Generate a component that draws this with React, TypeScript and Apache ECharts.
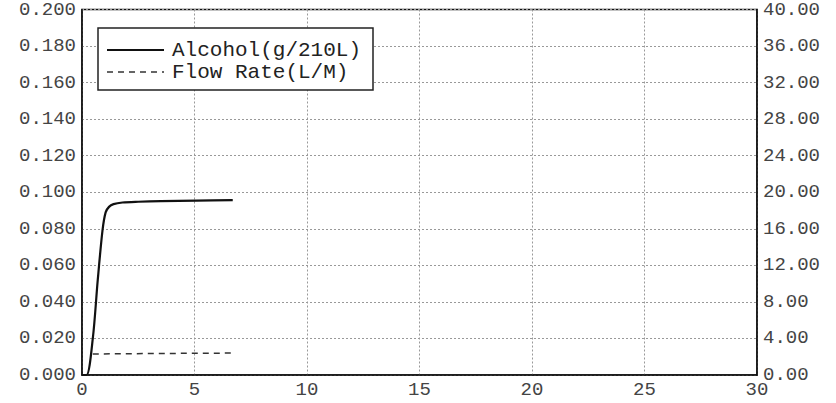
import React, { useEffect, useRef } from "react";
import * as echarts from "echarts";

const alcoholX = [0, 0.2, 0.48, 0.7, 0.91, 1.05, 1.2, 1.4, 1.8, 2.5, 3.5, 5.1, 6.7];
const alcoholY = [0, 0, 0.02, 0.052, 0.079, 0.089, 0.092, 0.0935, 0.0944, 0.0948, 0.0951, 0.0954, 0.0957];
const flowX = [0.48, 3.0, 6.7];
const flowY = [2.3, 2.35, 2.4];
const seriesNames = ["Alcohol(g/210L)", "Flow Rate(L/M)"];

const FONT = "Liberation Mono";

export default function App() {
  const ref = useRef<HTMLDivElement>(null);
  useEffect(() => {
    document.body.style.margin = "0";
    const chart = echarts.init(ref.current!, null, { renderer: "svg" });
    chart.setOption({
      animation: false,
      backgroundColor: "#ffffff",
      grid: {
        left: 82,
        right: 79,
        top: 9,
        bottom: 28,
        show: true,
        borderColor: "#111",
        borderWidth: 1.5,
      },
      graphic: [
        {
          type: "rect",
          shape: { x: 98, y: 28, width: 275, height: 62 },
          style: { fill: "#fff", stroke: "#222", lineWidth: 1.5 },
          z: 100,
        },
        {
          type: "line",
          shape: { x1: 107, y1: 50, x2: 164, y2: 50 },
          style: { stroke: "#111", lineWidth: 2 },
          z: 101,
        },
        {
          type: "line",
          shape: { x1: 107, y1: 72, x2: 164, y2: 72 },
          style: { stroke: "#333", lineWidth: 1.5, lineDash: [6, 5] },
          z: 101,
        },
        {
          type: "text",
          x: 172,
          y: 50,
          style: {
            text: seriesNames[0],
            font: `21px "${FONT}"`,
            fill: "#222",
            verticalAlign: "middle",
          },
          z: 101,
        },
        {
          type: "text",
          x: 172,
          y: 72,
          style: {
            text: seriesNames[1],
            font: `21px "${FONT}"`,
            fill: "#222",
            verticalAlign: "middle",
          },
          z: 101,
        },
      ],
      xAxis: {
        type: "value",
        min: 0,
        max: 30,
        interval: 5,
        axisLine: { show: true, lineStyle: { color: "#111", width: 1.5 } },
        axisTick: { show: false },
        axisLabel: { fontFamily: FONT, fontSize: 19, color: "#444", margin: 5 },
        splitLine: { show: true, lineStyle: { color: "#999", type: [2, 2], width: 1 } },
      },
      yAxis: [
        {
          type: "value",
          min: 0,
          max: 0.2,
          interval: 0.02,
          position: "left",
          axisLine: { show: true, lineStyle: { color: "#111", width: 1.5 } },
          axisTick: { show: false },
          axisLabel: {
            fontFamily: FONT,
            fontSize: 19,
            color: "#444",
            margin: 6,
            formatter: (v: number) => v.toFixed(3),
          },
          splitLine: { show: true, lineStyle: { color: "#999", type: [2, 2], width: 1 } },
        },
        {
          type: "value",
          min: 0,
          max: 40,
          interval: 4,
          position: "right",
          axisLine: { show: true, lineStyle: { color: "#111", width: 1.5 } },
          axisTick: { show: false },
          axisLabel: {
            fontFamily: FONT,
            fontSize: 19,
            color: "#444",
            margin: 6,
            formatter: (v: number) => v.toFixed(2),
          },
          splitLine: { show: false },
        },
      ],
      series: [
        {
          name: seriesNames[0],
          type: "line",
          yAxisIndex: 0,
          symbol: "none",
          smooth: 0.3,
          data: alcoholX.map((x, i) => [x, alcoholY[i]]),
          lineStyle: { color: "#111", width: 2.2 },
          itemStyle: { color: "#111" },
        },
        {
          name: seriesNames[1],
          type: "line",
          yAxisIndex: 1,
          symbol: "none",
          data: flowX.map((x, i) => [x, flowY[i]]),
          lineStyle: { color: "#333", width: 1.5, type: [6, 5] },
          itemStyle: { color: "#333" },
        },
      ],
    });
    return () => chart.dispose();
  }, []);
  return <div ref={ref} style={{ width: 836, height: 403 }} />;
}
